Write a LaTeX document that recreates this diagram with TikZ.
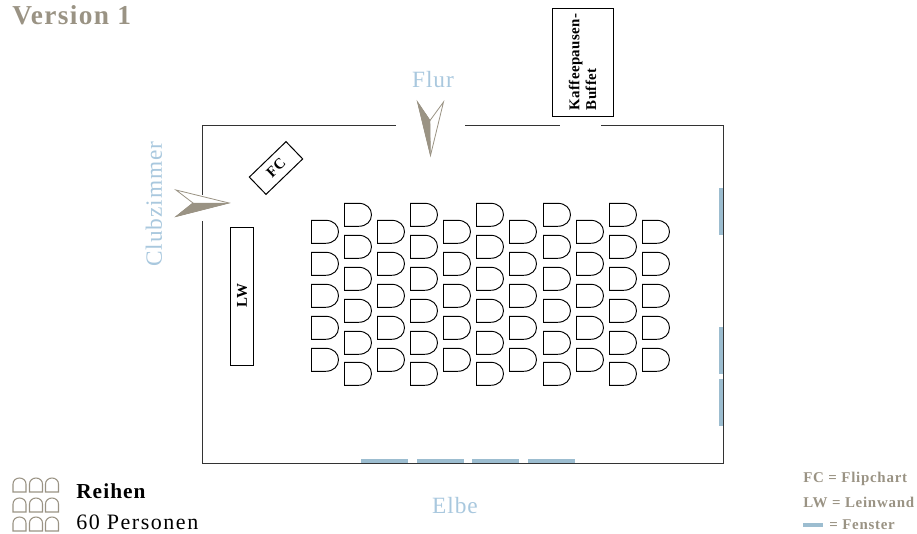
\documentclass[tikz,border=0pt]{standalone}
\usepackage{fontspec}
\setmainfont{Liberation Serif}
\definecolor{taupe}{HTML}{9A9384}
\definecolor{skyb}{HTML}{A9C8DE}
\definecolor{winb}{HTML}{9CBDD0}
\newcommand{\spaced}[1]{\addfontfeature{LetterSpace=#1}}
\tikzset{
  x=0.75pt,y=-0.75pt,
  wall/.style={draw=black!80,line width=0.7pt},
  chair/.style={draw=black,line width=0.7pt,fill=white},
  minichair/.style={draw=taupe,line width=0.8pt},
  furn/.style={draw=black,line width=0.75pt,fill=white,inner sep=0pt,align=left,font=\bfseries\fontsize{11.2}{12.6}\selectfont\spaced{2.5}},
  room/.style={text=skyb,font=\fontsize{17.5}{17.5}\selectfont\spaced{4},inner sep=0pt},
  legend/.style={text=taupe,font=\bfseries\fontsize{11.2}{11.2}\selectfont\spaced{5},inner sep=0pt,anchor=west},
  win/.style={draw=winb,line width=3pt},
  arrowdark/.style={fill=taupe,draw=taupe,line width=0.3pt},
  arrowline/.style={draw=taupe,line width=0.6pt,fill=white}
}
\newcommand{\chairat}[2]{\path[chair,shift={(#1,#2)}] (0.5,0.3) -- (14.5,0.3) .. controls (22.5,0.3) and (27.5,5.3) .. (27.5,11.8) .. controls (27.5,18.3) and (22.5,23.3) .. (14.5,23.3) -- (0.5,23.3) -- cycle;}
\newcommand{\minichairat}[2]{\path[minichair,shift={(#1,#2)}] (0,14) -- (0,6) .. controls (0,2.5) and (3,0) .. (6.5,0) .. controls (10,0) and (13,2.5) .. (13,6) -- (13,14) -- cycle;}
\begin{document}
\begin{tikzpicture}
\useasboundingbox (0,0) rectangle (917,533);
% title
\node[anchor=west,inner sep=0pt,text=taupe,font=\bfseries\fontsize{20.5}{20.5}\selectfont\spaced{5}] (title) at (12,15) {Version 1};
% walls
\draw[wall] (202,195) -- (202,125) -- (396,125);
\draw[wall] (465,125) -- (560,125);
\draw[wall] (601,125) -- (723,125) -- (723,463) -- (202,463) -- (202,221);
% windows
\foreach \a/\b in {188/235,327/374,379/426} \draw[win] (721,\a) -- (721,\b);
\foreach \a/\b in {361/408,417/464,472/519,528/575} \draw[win] (\a,460.5) -- (\b,460.5);
% arrows
\path[arrowline] (176,190) -- (229,203) -- (176,216.5) -- (193,203) -- cycle;
\path[arrowdark] (176,216.5) -- (193,203) -- (229,203) -- cycle;
\path[arrowline] (417.5,102) -- (430.5,155.5) -- (443.5,102) -- (430,120.5) -- cycle;
\path[arrowdark] (417.5,102) -- (430.5,155.5) -- (430,120.5) -- cycle;
% furniture
\node[furn,minimum width=108*0.75pt,minimum height=61*0.75pt,rotate=90] (buffet) at (582.5,62) {Kaffeepausen-\\Buffet};
\node[furn,minimum width=138*0.75pt,minimum height=23.5*0.75pt,rotate=90] (lw) at (242,296) {\raisebox{-1pt}{LW}};
\node[furn,minimum width=51*0.75pt,minimum height=24*0.75pt,rotate=44] (fc) at (276,168) {FC};
% chairs
\foreach \x in {311,377,443,509,576,642}
  \foreach \y in {220,252,284,316,348} { \chairat{\x}{\y} }
\foreach \x in {344,410,476,543,609}
  \foreach \y in {203,235,267,299,331,362} { \chairat{\x}{\y} }
% room labels
\node[room] (flur) at (433,80) {Flur};
\node[room,rotate=90] (club) at (154,204) {Clubzimmer};
\node[room] (elbe) at (455,506) {Elbe};
% legend left
\foreach \x in {13,29.5,45.5} \foreach \y in {478,498,517} { \minichairat{\x}{\y} }
\node[anchor=west,inner sep=0pt,font=\bfseries\fontsize{16}{16}\selectfont\spaced{5}] (reihen) at (76,491) {Reihen};
\node[anchor=west,inner sep=0pt,font=\fontsize{16.5}{16.5}\selectfont\spaced{7}] (pers) at (76,522) {60 Personen};
% legend right
\node[legend] (l1) at (803,479) {FC = Flipchart};
\node[legend] (l2) at (803,502) {LW = Leinwand};
\draw[win] (803,524.5) -- (823,524.5);
\node[legend] (l3) at (829,525) {= Fenster};
\end{tikzpicture}
\end{document}
